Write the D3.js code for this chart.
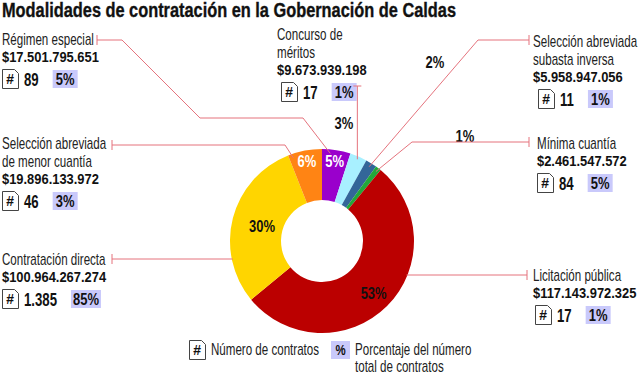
<!DOCTYPE html>
<html><head><meta charset="utf-8">
<script src="https://cdn.jsdelivr.net/npm/d3@7"></script>
<style>
html,body{margin:0;padding:0;background:#fff;}
svg{display:block;}
text{font-family:"Liberation Sans","Arial","Helvetica",sans-serif;}
</style></head>
<body>
<script>
// ---- data ----
const categories = ["Régimen especial","Concurso de méritos","Selección abreviada subasta inversa","Mínima cuantía","Licitación pública","Contratación directa","Selección abreviada de menor cuantía"];
const sliceShare = [5,3,2,1,53,30,6];
const sliceLabels = ["5%","3%","2%","1%","53%","30%","6%"];
const amounts = ["$17.501.795.651","$9.673.939.198","$5.958.947.056","$2.461.547.572","$117.143.972.325","$100.964.267.274","$19.896.133.972"];
const contractCounts = ["89","17","11","84","17","1.385","46"];
const countShare = ["5%","1%","1%","5%","1%","85%","3%"];
const colors = ["#9a00cc","#a8f0ff","#336699","#22a83a","#bb0000","#ffd500","#ff8414"];
const titleText = "Modalidades de contratación en la Gobernación de Caldas";
const legendItems = ["Número de contratos", "Porcentaje del número", "total de contratos"];

// ---- layout ----
const W = 640, H = 376;
const cx = 322, cy = 241, R = 92, r0 = 41;
const leaderColor = "#e5737d";
const lav = "#c9c9fb";

const svg = d3.select("body").append("svg").attr("width", W).attr("height", H);

function measure(s, size, weight) {
  const t = svg.append("text").attr("font-size", size).attr("font-weight", weight).text(s);
  const w = t.node().getComputedTextLength();
  t.remove();
  return w;
}
// condensed look: horizontal compression calibrated per text role
const ST = {
  name:   { size: 16, weight: "normal", fill: "#222" },
  amount: { size: 14.5, weight: "bold", fill: "#111" },
  count:  { size: 18, weight: "bold", fill: "#111" },
  pct:    { size: 17, weight: "bold", fill: "#111" }
};
ST.name.sx = 92 / measure("Régimen especial", ST.name.size, ST.name.weight);
ST.amount.sx = 97 / measure("$17.501.795.651", ST.amount.size, ST.amount.weight);
ST.count.sx = 33 / measure("1.385", ST.count.size, ST.count.weight);
ST.pct.sx = 26 / measure("53%", ST.pct.size, ST.pct.weight);

function txt(x, y, s, st, opt = {}) {
  const g = svg.append("g").attr("transform", `translate(${x},${y}) scale(${st.sx},1)`);
  const t = g.append("text").attr("font-size", opt.size || st.size).attr("font-weight", st.weight)
    .attr("fill", opt.fill || st.fill).attr("text-anchor", opt.anchor || "start").text(s);
  return t.node().getComputedTextLength() * st.sx;
}

// title
svg.append("text").attr("x", 2).attr("y", 17).attr("font-size", 20).attr("font-weight", "bold")
  .attr("fill", "#111").attr("stroke", "#111").attr("stroke-width", 0.35)
  .attr("textLength", 454).attr("lengthAdjust", "spacingAndGlyphs").text(titleText);

const pie = d3.pie().sort(null).value(d => d);
const arcs = pie(sliceShare);
const arc = d3.arc().innerRadius(r0).outerRadius(R);
const g = svg.append("g").attr("transform", `translate(${cx},${cy})`);
g.selectAll("path").data(arcs).join("path").attr("d", arc).attr("fill", (d, i) => colors[i]);

function polar(rad, ang) { return [cx + rad * Math.sin(ang), cy - rad * Math.cos(ang)]; }

// in-slice percent labels
const inLabel = { 0: { r: 81, fill: "#fff" }, 4: { r: 73, fill: "#111" }, 5: { r: 62, fill: "#111" }, 6: { r: 81, fill: "#fff" } };
// outside percent labels (centres)
const outLabel = { 1: [344, 123], 2: [435, 62], 3: [465, 136] };
arcs.forEach((a, i) => {
  const mid = (a.startAngle + a.endAngle) / 2;
  let p, fill;
  if (inLabel[i]) { p = polar(inLabel[i].r, mid); fill = inLabel[i].fill; }
  else { p = outLabel[i]; fill = "#111"; }
  txt(p[0], p[1] + 6, sliceLabels[i], ST.pct, { anchor: "middle", fill });
});

// label blocks
const blocks = [
  { i: 0, x: 2, y: 45, name: ["Régimen especial"], rowX: 2,
    leader: { pts: [[97, 40], [122, 40], [200, 118], [303, 118]], t: 0.3, cap: "v" } },
  { i: 1, x: 277, y: 40, name: ["Concurso de", "méritos"], rowX: 281,
    leader: { pts: [[359, 86]], t: 0.5, cap: "h", vertical: true } },
  { i: 2, x: 533, y: 47, name: ["Selección abreviada", "subasta inversa"], rowX: 538,
    leader: { pts: [[529, 40], [478, 40]], t: 0.5, cap: "v" } },
  { i: 3, x: 537, y: 149, name: ["Mínima cuantía"], rowX: 537,
    leader: { pts: [[529, 142], [412, 142]], t: 0.5, cap: "v" } },
  { i: 4, x: 533, y: 281, name: ["Licitación pública"], rowX: 535,
    leader: { pts: [[527, 275]], horizontalToRing: true, cap: "v" } },
  { i: 5, x: 2, y: 265, name: ["Contratación directa"], rowX: 2,
    leader: { pts: [[112, 259]], horizontalToRing: true, cap: "v" } },
  { i: 6, x: 2, y: 149, name: ["Selección abreviada", "de menor cuantía"], rowX: 2,
    leader: { pts: [[112, 145], [285, 145]], t: 0.12, cap: "v" } }
];

function hashIcon(x, y) {
  const w = 16, h = 19, f = 4;
  svg.append("path").attr("d", `M${x},${y}H${x + w - f}L${x + w},${y + f}V${y + h}H${x}Z`)
    .attr("fill", "#fff").attr("stroke", "#444").attr("stroke-width", 1);
  svg.append("text").attr("x", x + w / 2 - 0.5).attr("y", y + 14.5).attr("text-anchor", "middle")
    .attr("font-size", 14).attr("font-weight", "bold").attr("font-style", "italic").attr("fill", "#111").text("#");
}
function pctBox(x, y, s, wdt) {
  svg.append("rect").attr("x", x).attr("y", y).attr("width", wdt).attr("height", 18).attr("fill", lav);
  txt(x + wdt / 2, y + 15, s, ST.pct, { anchor: "middle" });
}

const lineH = 18;
blocks.forEach(b => {
  const i = b.i;
  let y = b.y;
  b.name.forEach(s => { txt(b.x, y, s, ST.name); y += lineH; });
  const ay = y - 1;
  txt(b.x, ay, amounts[i], ST.amount);
  const ry = ay + 7;
  hashIcon(b.rowX + 0.5, ry + 0.5);
  const nw = txt(b.rowX + 22, ry + 16.5, contractCounts[i], ST.count);
  const pw = countShare[i].length > 2 ? 30 : 25;
  pctBox(b.rowX + 22 + nw + 14, ry + 1, countShare[i], pw);

  // leader
  const L = b.leader;
  const a = arcs[i];
  let pts = L.pts.slice();
  if (L.horizontalToRing) {
    const yy = pts[0][1];
    const dx = Math.sqrt(R * R - (yy - cy) * (yy - cy));
    pts.push([pts[0][0] > cx ? cx + dx - 1 : cx - dx + 1, yy]);
  } else if (L.vertical) {
    const ang = a.startAngle + (a.endAngle - a.startAngle) * L.t;
    const p = polar(R - 3, ang);
    pts = [[p[0], pts[0][1]], p];
  } else {
    const ang = a.startAngle + (a.endAngle - a.startAngle) * L.t;
    pts.push(polar(R - 4, ang));
  }
  svg.append("path").attr("d", d3.line()(pts)).attr("fill", "none")
    .attr("stroke", leaderColor).attr("stroke-width", 1);
  const c = pts[0];
  if (L.cap === "v") {
    svg.append("line").attr("x1", c[0]).attr("x2", c[0]).attr("y1", c[1] - 5).attr("y2", c[1] + 5)
      .attr("stroke", leaderColor).attr("stroke-width", 1);
  } else {
    svg.append("line").attr("x1", c[0] - 4).attr("x2", c[0] + 4).attr("y1", c[1]).attr("y2", c[1])
      .attr("stroke", leaderColor).attr("stroke-width", 1);
  }
});

// legend
hashIcon(189.5, 340.5);
txt(211, 355, legendItems[0], ST.name);
svg.append("rect").attr("x", 331).attr("y", 341).attr("width", 19).attr("height", 18).attr("fill", lav);
txt(340.5, 355, "%", ST.pct, { anchor: "middle", size: 15 });
txt(355, 355, legendItems[1], ST.name);
txt(355, 372, legendItems[2], ST.name);
</script>
</body></html>
